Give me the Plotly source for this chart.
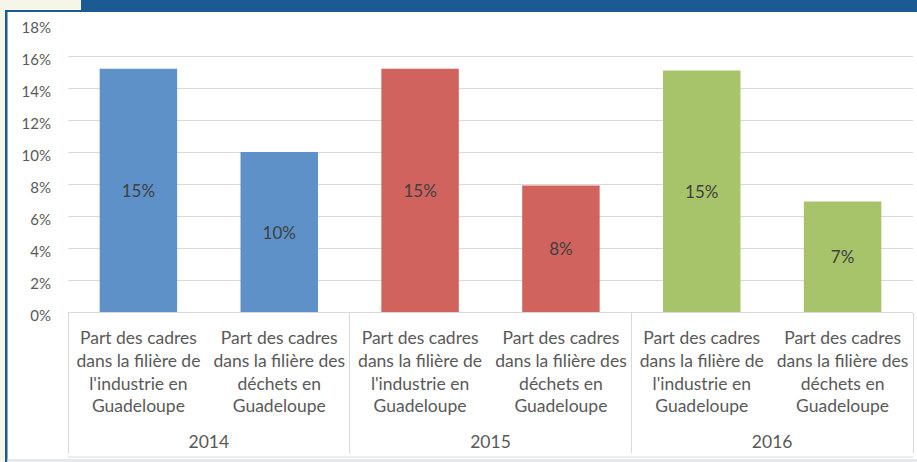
import plotly.graph_objects as go

years = ["2014", "2014", "2015", "2015", "2016", "2016"]
subcats = [
    "Part des cadres<br>dans la filière de<br>l'industrie en<br>Guadeloupe<br> ",
    "Part des cadres<br>dans la filière des<br>déchets en<br>Guadeloupe<br> ",
] * 3
values = [0.152, 0.100, 0.152, 0.079, 0.151, 0.069]
colors = ["#5e91c8", "#5e91c8", "#d0635d", "#d0635d", "#a8c46a", "#a8c46a"]
yticks = [0, 0.02, 0.04, 0.06, 0.08, 0.10, 0.12, 0.14, 0.16, 0.18]

W, H = 917, 462
ML, MR, MT, MB = 68, 4, 24, 150
PW, PH = W - ML - MR, H - MT - MB

def px(x):
    return (x - ML) / PW

def py(y):
    return 1 - (y - MT) / PH

FONT = "Lato"
GRAY = "#595959"

fig = go.Figure(go.Bar(
    x=[years, subcats], y=values,
    marker=dict(color=colors, line=dict(width=0)),
    width=0.55,
    texttemplate="%{y:.0%}", textposition="inside", insidetextanchor="middle",
    textfont=dict(family=FONT, size=17, color="#404040"),
    hoverinfo="skip",
))

shapes = [
    dict(type="rect", xref="paper", yref="paper", x0=px(0), x1=px(W), y0=py(11), y1=py(0),
         fillcolor="#1b5a92", line=dict(width=0), layer="above"),
    dict(type="rect", xref="paper", yref="paper", x0=px(0), x1=px(81), y0=py(10), y1=py(0),
         fillcolor="#f6f6e8", line=dict(width=0), layer="above"),
    dict(type="rect", xref="paper", yref="paper", x0=px(0), x1=px(5), y0=py(H), y1=py(10),
         fillcolor="#f6f6e8", line=dict(width=0), layer="above"),
    dict(type="rect", xref="paper", yref="paper", x0=px(5), x1=px(7.5), y0=py(H), y1=py(10),
         fillcolor="#1b5a92", line=dict(width=0), layer="above"),
    dict(type="rect", xref="paper", yref="paper", x0=px(5), x1=px(W), y0=py(10), y1=py(12),
         fillcolor="#1b5a92", line=dict(width=0), layer="above"),
    dict(type="rect", xref="paper", yref="paper", x0=px(7.5), x1=px(W), y0=py(H), y1=py(459),
         fillcolor="#e6eaec", line=dict(width=0), layer="above"),
    dict(type="line", xref="paper", yref="paper", x0=0, x1=1, y0=py(457), y1=py(457),
         line=dict(color="#d9d9d9", width=1.2)),
]

fig.update_layout(
    template="none",
    width=W, height=H,
    margin=dict(l=ML, r=MR, t=MT, b=MB, pad=0),
    paper_bgcolor="white", plot_bgcolor="white",
    showlegend=False,
    bargap=0.45,
    shapes=shapes,
    font=dict(family=FONT, size=15, color=GRAY),
    xaxis=dict(
        type="multicategory", automargin=False,
        showline=True, linecolor="#d9d9d9", linewidth=1.2,
        showdividers=True, dividercolor="#d9d9d9", dividerwidth=1.2,
        tickfont=dict(family=FONT, size=17.5, color=GRAY),
        ticks="", mirror=False, showgrid=False,
        ticklabelstandoff=10,
    ),
    yaxis=dict(
        automargin=False,
        range=[0, 0.18], tickvals=yticks, tickformat=".0%",
        showgrid=True, gridcolor="#d9d9d9", gridwidth=1.2,
        zeroline=False, showline=False, ticks="",
        tickfont=dict(family=FONT, size=15, color=GRAY),
        ticklabelstandoff=16, ticklabelshift=4,
    ),
)

fig.write_html("out.html", config={"displayModeBar": False},
               post_script="document.body.style.margin='0';document.body.style.padding='0';")
